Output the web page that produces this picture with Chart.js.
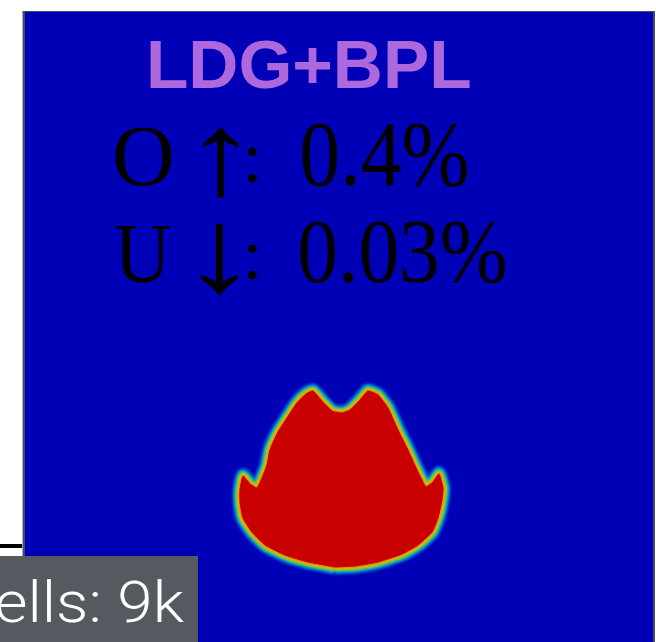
<!DOCTYPE html>
<html>
<head>
<meta charset="utf-8">
<script src="https://cdn.jsdelivr.net/npm/chart.js@4"></script>
<style>
  html, body { margin: 0; padding: 0; background: #ffffff; }
  canvas { display: block; }
</style>
</head>
<body>
<canvas id="c" width="656" height="642"></canvas>
<script>
// Method label and error statistics shown on the panel
const methodName = 'LDG+BPL';
const overshootLabel = 'O \u2191';
const overshootPct = 0.4;
const undershootLabel = 'U \u2193';
const undershootPct = 0.03;
const cellCount = '9k';

// Interface of the red (value = 1) region, in unit-square domain coordinates,
// traced clockwise from the bottom of the bubble
const shapeX = [0.4936, 0.4506, 0.4140, 0.3822, 0.3615, 0.3471, 0.3424, 0.3424, 0.3471, 0.3583,
                0.3694, 0.3774, 0.3854, 0.3901, 0.4029, 0.4172, 0.4331, 0.4475, 0.4586, 0.4729,
                0.4889, 0.5048, 0.5175, 0.5334, 0.5462, 0.5621, 0.5780, 0.5939, 0.6083, 0.6242,
                0.6306, 0.6385, 0.6497, 0.6592, 0.6656, 0.6640, 0.6576, 0.6481, 0.6258, 0.6003,
                0.5621, 0.5255, 0.4936];
const shapeY = [0.1190, 0.1270, 0.1381, 0.1540, 0.1746, 0.1968, 0.2222, 0.2413, 0.2635, 0.2508,
                0.2444, 0.2603, 0.2810, 0.3048, 0.3333, 0.3556, 0.3794, 0.3937, 0.3984, 0.3825,
                0.3667, 0.3635, 0.3683, 0.3841, 0.3984, 0.3921, 0.3714, 0.3365, 0.3079, 0.2730,
                0.2603, 0.2460, 0.2540, 0.2667, 0.2444, 0.2254, 0.1968, 0.1746, 0.1540, 0.1397,
                0.1270, 0.1206, 0.1190];

const shapePts = shapeX.map((x, i) => ({ x, y: shapeY[i] }));

// Colormap bands of the diffuse interface, from outside to inside
const bandColors = ['rgba(0,140,235,0.5)', 'rgba(0,200,215,0.8)', 'rgba(70,200,80,0.95)', 'rgba(225,215,0,1)', 'rgba(245,110,0,1)'];
const bandWidths = [16, 12, 9, 6, 3];

const fieldBlue = 'rgb(0,0,182)';
const fieldRed = 'rgb(200,0,0)';

const bandSets = bandColors.map((col, i) => ({
  data: shapePts,
  showLine: true,
  borderColor: col,
  borderWidth: bandWidths[i],
  borderJoinStyle: 'round',
  tension: 0.15,
  pointRadius: 0,
  fill: false,
  order: 10 - i,
  softEdge: true
}));

const coreSet = {
  data: shapePts,
  showLine: true,
  borderColor: 'rgba(200,0,0,1)',
  borderWidth: 1,
  backgroundColor: fieldRed,
  tension: 0.15,
  pointRadius: 0,
  fill: 'shape',
  order: 0
};

// Fits a string's ink box into a given rectangle
function fitText(ctx, text, font, l, t, r, b) {
  ctx.font = font;
  ctx.textAlign = 'left';
  ctx.textBaseline = 'alphabetic';
  const m = ctx.measureText(text);
  const w = m.actualBoundingBoxLeft + m.actualBoundingBoxRight;
  const h = m.actualBoundingBoxAscent + m.actualBoundingBoxDescent;
  ctx.save();
  ctx.translate(l, t);
  ctx.scale((r - l) / w, (b - t) / h);
  ctx.fillText(text, m.actualBoundingBoxLeft, m.actualBoundingBoxAscent);
  ctx.restore();
}

const panelDecor = {
  id: 'panelDecor',
  beforeDraw(chart) {
    const { ctx, chartArea: a } = chart;
    ctx.save();
    ctx.fillStyle = '#ffffff';
    ctx.fillRect(0, 0, chart.width, chart.height);
    ctx.fillStyle = fieldBlue;
    ctx.fillRect(a.left, a.top, a.right - a.left, a.bottom - a.top);
    ctx.restore();
  },
  beforeDatasetDraw(chart, args) {
    if (args.meta._dataset.softEdge) chart.ctx.filter = 'blur(1.2px)';
  },
  afterDatasetDraw(chart) {
    chart.ctx.filter = 'none';
  },
  afterDraw(chart) {
    const { ctx, chartArea: a } = chart;
    ctx.save();
    // panel frame
    ctx.fillStyle = '#a8aab2';
    ctx.fillRect(a.left - 3, a.top - 1, 1, a.bottom - a.top + 1);
    ctx.fillStyle = '#454a68';
    ctx.fillRect(a.left - 2, a.top - 1, 2, a.bottom - a.top + 1);
    ctx.fillRect(a.left - 2, a.top - 1, a.right - a.left + 4, 1);
    ctx.fillRect(a.right, a.top - 1, 2, a.bottom - a.top + 1);

    // edge of the neighbouring panel's axis
    ctx.fillStyle = '#000000';
    ctx.fillRect(0, 544, a.left - 3, 4);

    // titles
    ctx.fillStyle = '#ae68de';
    fitText(ctx, methodName, 'bold 68px "Liberation Sans", Arial, sans-serif', 150, 40, 470, 89);

    ctx.fillStyle = '#000000';
    const serif = '90px "Liberation Serif", "DejaVu Serif", serif';
    const parts1 = overshootLabel.split(' ');
    const parts2 = undershootLabel.split(' ');
    fitText(ctx, parts1[0], serif, 115, 126, 172, 186);
    fitText(ctx, parts1[1], serif, 203, 127, 240, 198);
    fitText(ctx, ':', serif, 248, 148, 257, 183);
    fitText(ctx, overshootPct + '%', serif, 302, 122, 467, 187);

    fitText(ctx, parts2[0], serif, 115, 225, 170, 283);
    fitText(ctx, parts2[1], serif, 201, 223, 240, 295);
    fitText(ctx, ':', serif, 248, 245, 257, 280);
    fitText(ctx, undershootPct + '%', serif, 300, 220, 505, 284);

    // cell count badge
    ctx.fillStyle = 'rgb(85,90,96)';
    ctx.fillRect(0, 556, 198, chart.height - 556);
    ctx.fillStyle = '#ffffff';
    ctx.font = '300 58px Roboto, "Open Sans", sans-serif';
    ctx.textAlign = 'right';
    ctx.textBaseline = 'alphabetic';
    const tail = 'ells: ' + cellCount;
    const tm = ctx.measureText(tail);
    const sx = 188 / (tm.actualBoundingBoxLeft + tm.actualBoundingBoxRight);
    ctx.translate(184, 622);
    ctx.scale(sx, 1);
    ctx.fillText('Cells: ' + cellCount, 0, 0);
    ctx.restore();
  }
};

new Chart(document.getElementById('c'), {
  type: 'scatter',
  data: { datasets: [...bandSets, coreSet] },
  options: {
    responsive: false,
    animation: false,
    layout: { padding: { left: 25, top: 12, right: 3, bottom: 0 } },
    plugins: { legend: { display: false }, tooltip: { enabled: false }, title: { display: false } },
    scales: {
      x: { type: 'linear', min: 0, max: 1, display: false },
      y: { type: 'linear', min: 0, max: 1, display: false }
    }
  },
  plugins: [panelDecor]
});
</script>
</body>
</html>
